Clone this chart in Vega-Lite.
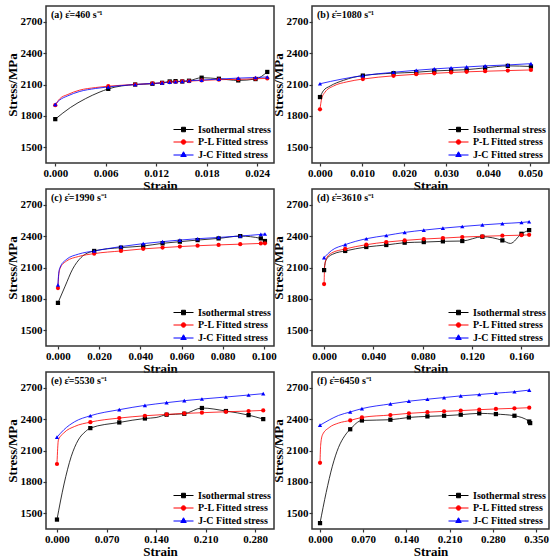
{
  "$schema": "https://vega.github.io/schema/vega-lite/v6.json",
  "padding": {"left": 5, "top": 5, "right": 5, "bottom": 0},
  "data": {
    "values": [
      {"panel": "a", "series": "Isothermal stress", "strain": 0, "stress": 1769, "obs": 1},
      {"panel": "a", "series": "Isothermal stress", "strain": 0.0018, "stress": 1880, "obs": 0},
      {"panel": "a", "series": "Isothermal stress", "strain": 0.0036, "stress": 1965, "obs": 0},
      {"panel": "a", "series": "Isothermal stress", "strain": 0.0052, "stress": 2025, "obs": 0},
      {"panel": "a", "series": "Isothermal stress", "strain": 0.0063, "stress": 2058, "obs": 1},
      {"panel": "a", "series": "Isothermal stress", "strain": 0.0095, "stress": 2100, "obs": 1},
      {"panel": "a", "series": "Isothermal stress", "strain": 0.01155, "stress": 2107, "obs": 1},
      {"panel": "a", "series": "Isothermal stress", "strain": 0.0127, "stress": 2116, "obs": 1},
      {"panel": "a", "series": "Isothermal stress", "strain": 0.0136, "stress": 2129, "obs": 1},
      {"panel": "a", "series": "Isothermal stress", "strain": 0.0143, "stress": 2132, "obs": 1},
      {"panel": "a", "series": "Isothermal stress", "strain": 0.0151, "stress": 2129, "obs": 1},
      {"panel": "a", "series": "Isothermal stress", "strain": 0.0159, "stress": 2136, "obs": 1},
      {"panel": "a", "series": "Isothermal stress", "strain": 0.0174, "stress": 2165, "obs": 1},
      {"panel": "a", "series": "Isothermal stress", "strain": 0.01945, "stress": 2155, "obs": 1},
      {"panel": "a", "series": "Isothermal stress", "strain": 0.02175, "stress": 2139, "obs": 1},
      {"panel": "a", "series": "Isothermal stress", "strain": 0.0238, "stress": 2152, "obs": 1},
      {"panel": "a", "series": "Isothermal stress", "strain": 0.0252, "stress": 2220, "obs": 1},
      {"panel": "a", "series": "P-L Fitted stress", "strain": 0, "stress": 1902, "obs": 1},
      {"panel": "a", "series": "P-L Fitted stress", "strain": 0.0005, "stress": 1961, "obs": 0},
      {"panel": "a", "series": "P-L Fitted stress", "strain": 0.0015, "stress": 2005, "obs": 0},
      {"panel": "a", "series": "P-L Fitted stress", "strain": 0.00285, "stress": 2045, "obs": 0},
      {"panel": "a", "series": "P-L Fitted stress", "strain": 0.0048, "stress": 2071, "obs": 0},
      {"panel": "a", "series": "P-L Fitted stress", "strain": 0.0063, "stress": 2084, "obs": 1},
      {"panel": "a", "series": "P-L Fitted stress", "strain": 0.0095, "stress": 2100, "obs": 1},
      {"panel": "a", "series": "P-L Fitted stress", "strain": 0.01155, "stress": 2110, "obs": 1},
      {"panel": "a", "series": "P-L Fitted stress", "strain": 0.0127, "stress": 2116, "obs": 1},
      {"panel": "a", "series": "P-L Fitted stress", "strain": 0.0136, "stress": 2122, "obs": 1},
      {"panel": "a", "series": "P-L Fitted stress", "strain": 0.0143, "stress": 2126, "obs": 1},
      {"panel": "a", "series": "P-L Fitted stress", "strain": 0.0151, "stress": 2129, "obs": 1},
      {"panel": "a", "series": "P-L Fitted stress", "strain": 0.0159, "stress": 2132, "obs": 1},
      {"panel": "a", "series": "P-L Fitted stress", "strain": 0.0174, "stress": 2139, "obs": 1},
      {"panel": "a", "series": "P-L Fitted stress", "strain": 0.01945, "stress": 2146, "obs": 1},
      {"panel": "a", "series": "P-L Fitted stress", "strain": 0.02175, "stress": 2149, "obs": 1},
      {"panel": "a", "series": "P-L Fitted stress", "strain": 0.0238, "stress": 2155, "obs": 1},
      {"panel": "a", "series": "P-L Fitted stress", "strain": 0.0252, "stress": 2158, "obs": 1},
      {"panel": "a", "series": "J-C Fitted stress", "strain": 0, "stress": 1910, "obs": 1},
      {"panel": "a", "series": "J-C Fitted stress", "strain": 0.0005, "stress": 1950, "obs": 0},
      {"panel": "a", "series": "J-C Fitted stress", "strain": 0.0015, "stress": 1992, "obs": 0},
      {"panel": "a", "series": "J-C Fitted stress", "strain": 0.00285, "stress": 2032, "obs": 0},
      {"panel": "a", "series": "J-C Fitted stress", "strain": 0.0048, "stress": 2062, "obs": 0},
      {"panel": "a", "series": "J-C Fitted stress", "strain": 0.0063, "stress": 2077, "obs": 1},
      {"panel": "a", "series": "J-C Fitted stress", "strain": 0.0095, "stress": 2100, "obs": 1},
      {"panel": "a", "series": "J-C Fitted stress", "strain": 0.01155, "stress": 2110, "obs": 1},
      {"panel": "a", "series": "J-C Fitted stress", "strain": 0.0127, "stress": 2116, "obs": 1},
      {"panel": "a", "series": "J-C Fitted stress", "strain": 0.0136, "stress": 2122, "obs": 1},
      {"panel": "a", "series": "J-C Fitted stress", "strain": 0.0143, "stress": 2126, "obs": 1},
      {"panel": "a", "series": "J-C Fitted stress", "strain": 0.0151, "stress": 2130, "obs": 1},
      {"panel": "a", "series": "J-C Fitted stress", "strain": 0.0159, "stress": 2136, "obs": 1},
      {"panel": "a", "series": "J-C Fitted stress", "strain": 0.0174, "stress": 2142, "obs": 1},
      {"panel": "a", "series": "J-C Fitted stress", "strain": 0.01945, "stress": 2152, "obs": 1},
      {"panel": "a", "series": "J-C Fitted stress", "strain": 0.02175, "stress": 2161, "obs": 1},
      {"panel": "a", "series": "J-C Fitted stress", "strain": 0.0238, "stress": 2167, "obs": 1},
      {"panel": "a", "series": "J-C Fitted stress", "strain": 0.0252, "stress": 2172, "obs": 1},

      {"panel": "b", "series": "Isothermal stress", "strain": 0, "stress": 1980, "obs": 1},
      {"panel": "b", "series": "Isothermal stress", "strain": 0.0008, "stress": 2040, "obs": 0},
      {"panel": "b", "series": "Isothermal stress", "strain": 0.0024, "stress": 2085, "obs": 0},
      {"panel": "b", "series": "Isothermal stress", "strain": 0.0056, "stress": 2140, "obs": 0},
      {"panel": "b", "series": "Isothermal stress", "strain": 0.0079, "stress": 2168, "obs": 0},
      {"panel": "b", "series": "Isothermal stress", "strain": 0.0102, "stress": 2185, "obs": 1},
      {"panel": "b", "series": "Isothermal stress", "strain": 0.0175, "stress": 2208, "obs": 1},
      {"panel": "b", "series": "Isothermal stress", "strain": 0.0229, "stress": 2217, "obs": 1},
      {"panel": "b", "series": "Isothermal stress", "strain": 0.0272, "stress": 2230, "obs": 1},
      {"panel": "b", "series": "Isothermal stress", "strain": 0.0312, "stress": 2236, "obs": 1},
      {"panel": "b", "series": "Isothermal stress", "strain": 0.0349, "stress": 2242, "obs": 1},
      {"panel": "b", "series": "Isothermal stress", "strain": 0.0393, "stress": 2259, "obs": 1},
      {"panel": "b", "series": "Isothermal stress", "strain": 0.0447, "stress": 2278, "obs": 1},
      {"panel": "b", "series": "Isothermal stress", "strain": 0.0502, "stress": 2272, "obs": 1},
      {"panel": "b", "series": "P-L Fitted stress", "strain": 0, "stress": 1863, "obs": 1},
      {"panel": "b", "series": "P-L Fitted stress", "strain": 0.0004, "stress": 1964, "obs": 0},
      {"panel": "b", "series": "P-L Fitted stress", "strain": 0.0012, "stress": 2027, "obs": 0},
      {"panel": "b", "series": "P-L Fitted stress", "strain": 0.0032, "stress": 2085, "obs": 0},
      {"panel": "b", "series": "P-L Fitted stress", "strain": 0.0064, "stress": 2125, "obs": 0},
      {"panel": "b", "series": "P-L Fitted stress", "strain": 0.0102, "stress": 2152, "obs": 1},
      {"panel": "b", "series": "P-L Fitted stress", "strain": 0.0175, "stress": 2183, "obs": 1},
      {"panel": "b", "series": "P-L Fitted stress", "strain": 0.0229, "stress": 2198, "obs": 1},
      {"panel": "b", "series": "P-L Fitted stress", "strain": 0.0272, "stress": 2207, "obs": 1},
      {"panel": "b", "series": "P-L Fitted stress", "strain": 0.0312, "stress": 2215, "obs": 1},
      {"panel": "b", "series": "P-L Fitted stress", "strain": 0.0349, "stress": 2221, "obs": 1},
      {"panel": "b", "series": "P-L Fitted stress", "strain": 0.0393, "stress": 2227, "obs": 1},
      {"panel": "b", "series": "P-L Fitted stress", "strain": 0.0447, "stress": 2233, "obs": 1},
      {"panel": "b", "series": "P-L Fitted stress", "strain": 0.0502, "stress": 2239, "obs": 1},
      {"panel": "b", "series": "J-C Fitted stress", "strain": 0, "stress": 2107, "obs": 1},
      {"panel": "b", "series": "J-C Fitted stress", "strain": 0.005, "stress": 2150, "obs": 0},
      {"panel": "b", "series": "J-C Fitted stress", "strain": 0.0102, "stress": 2185, "obs": 1},
      {"panel": "b", "series": "J-C Fitted stress", "strain": 0.0175, "stress": 2217, "obs": 1},
      {"panel": "b", "series": "J-C Fitted stress", "strain": 0.0229, "stress": 2236, "obs": 1},
      {"panel": "b", "series": "J-C Fitted stress", "strain": 0.0272, "stress": 2249, "obs": 1},
      {"panel": "b", "series": "J-C Fitted stress", "strain": 0.0312, "stress": 2259, "obs": 1},
      {"panel": "b", "series": "J-C Fitted stress", "strain": 0.0349, "stress": 2268, "obs": 1},
      {"panel": "b", "series": "J-C Fitted stress", "strain": 0.0393, "stress": 2278, "obs": 1},
      {"panel": "b", "series": "J-C Fitted stress", "strain": 0.0447, "stress": 2287, "obs": 1},
      {"panel": "b", "series": "J-C Fitted stress", "strain": 0.0502, "stress": 2299, "obs": 1},

      {"panel": "c", "series": "Isothermal stress", "strain": 0, "stress": 1762, "obs": 1},
      {"panel": "c", "series": "Isothermal stress", "strain": 0.0035, "stress": 1922, "obs": 0},
      {"panel": "c", "series": "Isothermal stress", "strain": 0.0071, "stress": 2084, "obs": 0},
      {"panel": "c", "series": "Isothermal stress", "strain": 0.0112, "stress": 2195, "obs": 0},
      {"panel": "c", "series": "Isothermal stress", "strain": 0.0176, "stress": 2258, "obs": 1},
      {"panel": "c", "series": "Isothermal stress", "strain": 0.0306, "stress": 2290, "obs": 1},
      {"panel": "c", "series": "Isothermal stress", "strain": 0.0414, "stress": 2305, "obs": 1},
      {"panel": "c", "series": "Isothermal stress", "strain": 0.0508, "stress": 2331, "obs": 1},
      {"panel": "c", "series": "Isothermal stress", "strain": 0.0592, "stress": 2347, "obs": 1},
      {"panel": "c", "series": "Isothermal stress", "strain": 0.0678, "stress": 2362, "obs": 1},
      {"panel": "c", "series": "Isothermal stress", "strain": 0.078, "stress": 2378, "obs": 1},
      {"panel": "c", "series": "Isothermal stress", "strain": 0.0885, "stress": 2400, "obs": 1},
      {"panel": "c", "series": "Isothermal stress", "strain": 0.0985, "stress": 2378, "obs": 1},
      {"panel": "c", "series": "Isothermal stress", "strain": 0.1005, "stress": 2353, "obs": 1},
      {"panel": "c", "series": "P-L Fitted stress", "strain": 0, "stress": 1904, "obs": 1},
      {"panel": "c", "series": "P-L Fitted stress", "strain": 0.0003, "stress": 2010, "obs": 0},
      {"panel": "c", "series": "P-L Fitted stress", "strain": 0.001, "stress": 2090, "obs": 0},
      {"panel": "c", "series": "P-L Fitted stress", "strain": 0.004, "stress": 2160, "obs": 0},
      {"panel": "c", "series": "P-L Fitted stress", "strain": 0.01, "stress": 2205, "obs": 0},
      {"panel": "c", "series": "P-L Fitted stress", "strain": 0.0176, "stress": 2233, "obs": 1},
      {"panel": "c", "series": "P-L Fitted stress", "strain": 0.0306, "stress": 2258, "obs": 1},
      {"panel": "c", "series": "P-L Fitted stress", "strain": 0.0414, "stress": 2278, "obs": 1},
      {"panel": "c", "series": "P-L Fitted stress", "strain": 0.0508, "stress": 2290, "obs": 1},
      {"panel": "c", "series": "P-L Fitted stress", "strain": 0.0592, "stress": 2300, "obs": 1},
      {"panel": "c", "series": "P-L Fitted stress", "strain": 0.0678, "stress": 2308, "obs": 1},
      {"panel": "c", "series": "P-L Fitted stress", "strain": 0.078, "stress": 2316, "obs": 1},
      {"panel": "c", "series": "P-L Fitted stress", "strain": 0.0885, "stress": 2323, "obs": 1},
      {"panel": "c", "series": "P-L Fitted stress", "strain": 0.0985, "stress": 2330, "obs": 1},
      {"panel": "c", "series": "P-L Fitted stress", "strain": 0.1005, "stress": 2331, "obs": 1},
      {"panel": "c", "series": "J-C Fitted stress", "strain": 0, "stress": 1933, "obs": 1},
      {"panel": "c", "series": "J-C Fitted stress", "strain": 0.0003, "stress": 2030, "obs": 0},
      {"panel": "c", "series": "J-C Fitted stress", "strain": 0.001, "stress": 2100, "obs": 0},
      {"panel": "c", "series": "J-C Fitted stress", "strain": 0.004, "stress": 2175, "obs": 0},
      {"panel": "c", "series": "J-C Fitted stress", "strain": 0.01, "stress": 2228, "obs": 0},
      {"panel": "c", "series": "J-C Fitted stress", "strain": 0.0176, "stress": 2258, "obs": 1},
      {"panel": "c", "series": "J-C Fitted stress", "strain": 0.0306, "stress": 2300, "obs": 1},
      {"panel": "c", "series": "J-C Fitted stress", "strain": 0.0414, "stress": 2328, "obs": 1},
      {"panel": "c", "series": "J-C Fitted stress", "strain": 0.0508, "stress": 2347, "obs": 1},
      {"panel": "c", "series": "J-C Fitted stress", "strain": 0.0592, "stress": 2362, "obs": 1},
      {"panel": "c", "series": "J-C Fitted stress", "strain": 0.0678, "stress": 2375, "obs": 1},
      {"panel": "c", "series": "J-C Fitted stress", "strain": 0.078, "stress": 2387, "obs": 1},
      {"panel": "c", "series": "J-C Fitted stress", "strain": 0.0885, "stress": 2401, "obs": 1},
      {"panel": "c", "series": "J-C Fitted stress", "strain": 0.0985, "stress": 2416, "obs": 1},
      {"panel": "c", "series": "J-C Fitted stress", "strain": 0.1005, "stress": 2420, "obs": 1},

      {"panel": "d", "series": "Isothermal stress", "strain": 0, "stress": 2075, "obs": 1},
      {"panel": "d", "series": "Isothermal stress", "strain": 0.001, "stress": 2150, "obs": 0},
      {"panel": "d", "series": "Isothermal stress", "strain": 0.003, "stress": 2195, "obs": 0},
      {"panel": "d", "series": "Isothermal stress", "strain": 0.008, "stress": 2232, "obs": 0},
      {"panel": "d", "series": "Isothermal stress", "strain": 0.0171, "stress": 2258, "obs": 1},
      {"panel": "d", "series": "Isothermal stress", "strain": 0.0342, "stress": 2296, "obs": 1},
      {"panel": "d", "series": "Isothermal stress", "strain": 0.0504, "stress": 2315, "obs": 1},
      {"panel": "d", "series": "Isothermal stress", "strain": 0.0653, "stress": 2337, "obs": 1},
      {"panel": "d", "series": "Isothermal stress", "strain": 0.0808, "stress": 2343, "obs": 1},
      {"panel": "d", "series": "Isothermal stress", "strain": 0.0963, "stress": 2350, "obs": 1},
      {"panel": "d", "series": "Isothermal stress", "strain": 0.112, "stress": 2353, "obs": 1},
      {"panel": "d", "series": "Isothermal stress", "strain": 0.1283, "stress": 2394, "obs": 1},
      {"panel": "d", "series": "Isothermal stress", "strain": 0.1445, "stress": 2359, "obs": 1},
      {"panel": "d", "series": "Isothermal stress", "strain": 0.151, "stress": 2330, "obs": 0},
      {"panel": "d", "series": "Isothermal stress", "strain": 0.16, "stress": 2422, "obs": 1},
      {"panel": "d", "series": "Isothermal stress", "strain": 0.1662, "stress": 2457, "obs": 1},
      {"panel": "d", "series": "P-L Fitted stress", "strain": 0, "stress": 1942, "obs": 1},
      {"panel": "d", "series": "P-L Fitted stress", "strain": 0.0005, "stress": 2120, "obs": 0},
      {"panel": "d", "series": "P-L Fitted stress", "strain": 0.002, "stress": 2190, "obs": 0},
      {"panel": "d", "series": "P-L Fitted stress", "strain": 0.006, "stress": 2238, "obs": 0},
      {"panel": "d", "series": "P-L Fitted stress", "strain": 0.0171, "stress": 2277, "obs": 1},
      {"panel": "d", "series": "P-L Fitted stress", "strain": 0.0342, "stress": 2318, "obs": 1},
      {"panel": "d", "series": "P-L Fitted stress", "strain": 0.0504, "stress": 2343, "obs": 1},
      {"panel": "d", "series": "P-L Fitted stress", "strain": 0.0653, "stress": 2359, "obs": 1},
      {"panel": "d", "series": "P-L Fitted stress", "strain": 0.0808, "stress": 2372, "obs": 1},
      {"panel": "d", "series": "P-L Fitted stress", "strain": 0.0963, "stress": 2381, "obs": 1},
      {"panel": "d", "series": "P-L Fitted stress", "strain": 0.112, "stress": 2391, "obs": 1},
      {"panel": "d", "series": "P-L Fitted stress", "strain": 0.1283, "stress": 2398, "obs": 1},
      {"panel": "d", "series": "P-L Fitted stress", "strain": 0.1445, "stress": 2404, "obs": 1},
      {"panel": "d", "series": "P-L Fitted stress", "strain": 0.16, "stress": 2409, "obs": 1},
      {"panel": "d", "series": "P-L Fitted stress", "strain": 0.1662, "stress": 2412, "obs": 1},
      {"panel": "d", "series": "J-C Fitted stress", "strain": 0, "stress": 2195, "obs": 1},
      {"panel": "d", "series": "J-C Fitted stress", "strain": 0.006, "stress": 2262, "obs": 0},
      {"panel": "d", "series": "J-C Fitted stress", "strain": 0.0171, "stress": 2318, "obs": 1},
      {"panel": "d", "series": "J-C Fitted stress", "strain": 0.0342, "stress": 2375, "obs": 1},
      {"panel": "d", "series": "J-C Fitted stress", "strain": 0.0504, "stress": 2406, "obs": 1},
      {"panel": "d", "series": "J-C Fitted stress", "strain": 0.0653, "stress": 2435, "obs": 1},
      {"panel": "d", "series": "J-C Fitted stress", "strain": 0.0808, "stress": 2457, "obs": 1},
      {"panel": "d", "series": "J-C Fitted stress", "strain": 0.0963, "stress": 2476, "obs": 1},
      {"panel": "d", "series": "J-C Fitted stress", "strain": 0.112, "stress": 2492, "obs": 1},
      {"panel": "d", "series": "J-C Fitted stress", "strain": 0.1283, "stress": 2507, "obs": 1},
      {"panel": "d", "series": "J-C Fitted stress", "strain": 0.1445, "stress": 2520, "obs": 1},
      {"panel": "d", "series": "J-C Fitted stress", "strain": 0.16, "stress": 2530, "obs": 1},
      {"panel": "d", "series": "J-C Fitted stress", "strain": 0.1662, "stress": 2537, "obs": 1},

      {"panel": "e", "series": "Isothermal stress", "strain": 0, "stress": 1440, "obs": 1},
      {"panel": "e", "series": "Isothermal stress", "strain": 0.01, "stress": 1780, "obs": 0},
      {"panel": "e", "series": "Isothermal stress", "strain": 0.02, "stress": 2040, "obs": 0},
      {"panel": "e", "series": "Isothermal stress", "strain": 0.03, "stress": 2200, "obs": 0},
      {"panel": "e", "series": "Isothermal stress", "strain": 0.04, "stress": 2280, "obs": 0},
      {"panel": "e", "series": "Isothermal stress", "strain": 0.0471, "stress": 2314, "obs": 1},
      {"panel": "e", "series": "Isothermal stress", "strain": 0.088, "stress": 2368, "obs": 1},
      {"panel": "e", "series": "Isothermal stress", "strain": 0.1242, "stress": 2406, "obs": 1},
      {"panel": "e", "series": "Isothermal stress", "strain": 0.14, "stress": 2415, "obs": 0},
      {"panel": "e", "series": "Isothermal stress", "strain": 0.1548, "stress": 2442, "obs": 1},
      {"panel": "e", "series": "Isothermal stress", "strain": 0.1798, "stress": 2451, "obs": 1},
      {"panel": "e", "series": "Isothermal stress", "strain": 0.2047, "stress": 2506, "obs": 1},
      {"panel": "e", "series": "Isothermal stress", "strain": 0.2386, "stress": 2477, "obs": 1},
      {"panel": "e", "series": "Isothermal stress", "strain": 0.2706, "stress": 2438, "obs": 1},
      {"panel": "e", "series": "Isothermal stress", "strain": 0.2913, "stress": 2400, "obs": 1},
      {"panel": "e", "series": "P-L Fitted stress", "strain": 0, "stress": 1971, "obs": 1},
      {"panel": "e", "series": "P-L Fitted stress", "strain": 0.002, "stress": 2200, "obs": 0},
      {"panel": "e", "series": "P-L Fitted stress", "strain": 0.01, "stress": 2270, "obs": 0},
      {"panel": "e", "series": "P-L Fitted stress", "strain": 0.025, "stress": 2330, "obs": 0},
      {"panel": "e", "series": "P-L Fitted stress", "strain": 0.0471, "stress": 2371, "obs": 1},
      {"panel": "e", "series": "P-L Fitted stress", "strain": 0.088, "stress": 2410, "obs": 1},
      {"panel": "e", "series": "P-L Fitted stress", "strain": 0.1242, "stress": 2432, "obs": 1},
      {"panel": "e", "series": "P-L Fitted stress", "strain": 0.1548, "stress": 2445, "obs": 1},
      {"panel": "e", "series": "P-L Fitted stress", "strain": 0.1798, "stress": 2454, "obs": 1},
      {"panel": "e", "series": "P-L Fitted stress", "strain": 0.2047, "stress": 2461, "obs": 1},
      {"panel": "e", "series": "P-L Fitted stress", "strain": 0.2386, "stress": 2470, "obs": 1},
      {"panel": "e", "series": "P-L Fitted stress", "strain": 0.2706, "stress": 2477, "obs": 1},
      {"panel": "e", "series": "P-L Fitted stress", "strain": 0.2913, "stress": 2483, "obs": 1},
      {"panel": "e", "series": "J-C Fitted stress", "strain": 0, "stress": 2227, "obs": 1},
      {"panel": "e", "series": "J-C Fitted stress", "strain": 0.01, "stress": 2300, "obs": 0},
      {"panel": "e", "series": "J-C Fitted stress", "strain": 0.025, "stress": 2375, "obs": 0},
      {"panel": "e", "series": "J-C Fitted stress", "strain": 0.0471, "stress": 2432, "obs": 1},
      {"panel": "e", "series": "J-C Fitted stress", "strain": 0.088, "stress": 2490, "obs": 1},
      {"panel": "e", "series": "J-C Fitted stress", "strain": 0.1242, "stress": 2531, "obs": 1},
      {"panel": "e", "series": "J-C Fitted stress", "strain": 0.1548, "stress": 2557, "obs": 1},
      {"panel": "e", "series": "J-C Fitted stress", "strain": 0.1798, "stress": 2576, "obs": 1},
      {"panel": "e", "series": "J-C Fitted stress", "strain": 0.2047, "stress": 2592, "obs": 1},
      {"panel": "e", "series": "J-C Fitted stress", "strain": 0.2386, "stress": 2611, "obs": 1},
      {"panel": "e", "series": "J-C Fitted stress", "strain": 0.2706, "stress": 2630, "obs": 1},
      {"panel": "e", "series": "J-C Fitted stress", "strain": 0.2913, "stress": 2643, "obs": 1},

      {"panel": "f", "series": "Isothermal stress", "strain": 0, "stress": 1406, "obs": 1},
      {"panel": "f", "series": "Isothermal stress", "strain": 0.01, "stress": 1700, "obs": 0},
      {"panel": "f", "series": "Isothermal stress", "strain": 0.02, "stress": 1950, "obs": 0},
      {"panel": "f", "series": "Isothermal stress", "strain": 0.03, "stress": 2130, "obs": 0},
      {"panel": "f", "series": "Isothermal stress", "strain": 0.04, "stress": 2240, "obs": 0},
      {"panel": "f", "series": "Isothermal stress", "strain": 0.0489, "stress": 2303, "obs": 1},
      {"panel": "f", "series": "Isothermal stress", "strain": 0.0679, "stress": 2387, "obs": 1},
      {"panel": "f", "series": "Isothermal stress", "strain": 0.114, "stress": 2394, "obs": 1},
      {"panel": "f", "series": "Isothermal stress", "strain": 0.144, "stress": 2416, "obs": 1},
      {"panel": "f", "series": "Isothermal stress", "strain": 0.174, "stress": 2426, "obs": 1},
      {"panel": "f", "series": "Isothermal stress", "strain": 0.201, "stress": 2432, "obs": 1},
      {"panel": "f", "series": "Isothermal stress", "strain": 0.228, "stress": 2442, "obs": 1},
      {"panel": "f", "series": "Isothermal stress", "strain": 0.258, "stress": 2455, "obs": 1},
      {"panel": "f", "series": "Isothermal stress", "strain": 0.285, "stress": 2448, "obs": 1},
      {"panel": "f", "series": "Isothermal stress", "strain": 0.315, "stress": 2432, "obs": 1},
      {"panel": "f", "series": "Isothermal stress", "strain": 0.339, "stress": 2377, "obs": 1},
      {"panel": "f", "series": "Isothermal stress", "strain": 0.3405, "stress": 2362, "obs": 1},
      {"panel": "f", "series": "P-L Fitted stress", "strain": 0, "stress": 1982, "obs": 1},
      {"panel": "f", "series": "P-L Fitted stress", "strain": 0.001, "stress": 2150, "obs": 0},
      {"panel": "f", "series": "P-L Fitted stress", "strain": 0.004, "stress": 2250, "obs": 0},
      {"panel": "f", "series": "P-L Fitted stress", "strain": 0.015, "stress": 2320, "obs": 0},
      {"panel": "f", "series": "P-L Fitted stress", "strain": 0.03, "stress": 2362, "obs": 0},
      {"panel": "f", "series": "P-L Fitted stress", "strain": 0.0489, "stress": 2387, "obs": 1},
      {"panel": "f", "series": "P-L Fitted stress", "strain": 0.0679, "stress": 2416, "obs": 1},
      {"panel": "f", "series": "P-L Fitted stress", "strain": 0.114, "stress": 2439, "obs": 1},
      {"panel": "f", "series": "P-L Fitted stress", "strain": 0.144, "stress": 2455, "obs": 1},
      {"panel": "f", "series": "P-L Fitted stress", "strain": 0.174, "stress": 2466, "obs": 1},
      {"panel": "f", "series": "P-L Fitted stress", "strain": 0.201, "stress": 2474, "obs": 1},
      {"panel": "f", "series": "P-L Fitted stress", "strain": 0.228, "stress": 2481, "obs": 1},
      {"panel": "f", "series": "P-L Fitted stress", "strain": 0.258, "stress": 2490, "obs": 1},
      {"panel": "f", "series": "P-L Fitted stress", "strain": 0.285, "stress": 2497, "obs": 1},
      {"panel": "f", "series": "P-L Fitted stress", "strain": 0.315, "stress": 2503, "obs": 1},
      {"panel": "f", "series": "P-L Fitted stress", "strain": 0.339, "stress": 2509, "obs": 1},
      {"panel": "f", "series": "J-C Fitted stress", "strain": 0, "stress": 2342, "obs": 1},
      {"panel": "f", "series": "J-C Fitted stress", "strain": 0.015, "stress": 2392, "obs": 0},
      {"panel": "f", "series": "J-C Fitted stress", "strain": 0.03, "stress": 2435, "obs": 0},
      {"panel": "f", "series": "J-C Fitted stress", "strain": 0.0489, "stress": 2468, "obs": 1},
      {"panel": "f", "series": "J-C Fitted stress", "strain": 0.0679, "stress": 2500, "obs": 1},
      {"panel": "f", "series": "J-C Fitted stress", "strain": 0.114, "stress": 2545, "obs": 1},
      {"panel": "f", "series": "J-C Fitted stress", "strain": 0.144, "stress": 2571, "obs": 1},
      {"panel": "f", "series": "J-C Fitted stress", "strain": 0.174, "stress": 2590, "obs": 1},
      {"panel": "f", "series": "J-C Fitted stress", "strain": 0.201, "stress": 2606, "obs": 1},
      {"panel": "f", "series": "J-C Fitted stress", "strain": 0.228, "stress": 2622, "obs": 1},
      {"panel": "f", "series": "J-C Fitted stress", "strain": 0.258, "stress": 2635, "obs": 1},
      {"panel": "f", "series": "J-C Fitted stress", "strain": 0.285, "stress": 2648, "obs": 1},
      {"panel": "f", "series": "J-C Fitted stress", "strain": 0.315, "stress": 2661, "obs": 1},
      {"panel": "f", "series": "J-C Fitted stress", "strain": 0.339, "stress": 2677, "obs": 1}
    ]
  },
  "columns": 2,
  "bounds": "flush",
  "align": "each",
  "spacing": {"row": 26, "column": 38},
  "concat": [
    {
      "width": 228, "height": 157,
      "title": "(a) \u03b5\u0307=460 s\u207b\u00b9",
      "transform": [{"filter": "datum.panel == 'a'"}],
      "encoding": {
        "x": {"field": "strain", "type": "quantitative", "scale": {"domain": [-0.0011, 0.026], "nice": false, "zero": false}, "axis": {"values": [0, 0.006, 0.012, 0.018, 0.024], "format": ".3f", "title": "Strain"}},
        "y": {"field": "stress", "type": "quantitative", "scale": {"domain": [1350, 2850], "nice": false, "zero": false}, "axis": {"values": [1500, 1800, 2100, 2400, 2700], "format": "d", "title": "Stress/MPa"}}
      },
      "layer": [
        {"mark": {"type": "line", "interpolate": "monotone", "strokeWidth": 1, "opacity": 0.8}, "encoding": {"color": {"field": "series", "type": "nominal", "scale": {"domain": ["Isothermal stress", "P-L Fitted stress", "J-C Fitted stress"], "range": ["#000000", "#ff0000", "#0000ff"]}, "legend": null}}},
        {"transform": [{"filter": "datum.obs == 1"}], "mark": {"type": "point", "filled": true, "size": 18, "opacity": 1}, "encoding": {"color": {"field": "series", "type": "nominal", "legend": null}, "shape": {"field": "series", "type": "nominal", "scale": {"domain": ["Isothermal stress", "P-L Fitted stress", "J-C Fitted stress"], "range": ["square", "circle", "triangle-up"]}, "legend": null}}},
        {"transform": [{"filter": "false"}], "mark": {"type": "point", "filled": true, "size": 100, "opacity": 1}, "encoding": {
          "fill": {"field": "series", "type": "nominal", "scale": {"domain": ["Isothermal stress", "P-L Fitted stress", "J-C Fitted stress"], "range": ["#000000", "#ff0000", "#0000ff"]}, "legend": {"title": null}},
          "stroke": {"field": "series", "type": "nominal", "scale": {"domain": ["Isothermal stress", "P-L Fitted stress", "J-C Fitted stress"], "range": ["#000000", "#ff0000", "#0000ff"]}, "legend": {"title": null}},
          "shape": {"field": "series", "type": "nominal", "scale": {"domain": ["Isothermal stress", "P-L Fitted stress", "J-C Fitted stress"], "range": ["M-1,0H3M0.6,-0.45H1.4V0.45H0.6Z", "M-1,0H3M1.45,0A0.45,0.45,0,1,1,0.55,0A0.45,0.45,0,1,1,1.45,0Z", "M-1,0.1H3M1,-0.55L1.55,0.4H0.45Z"]}, "legend": {"title": null}}
        }}
      ],
      "resolve": {"scale": {"fill": "independent", "stroke": "independent", "shape": "independent"}}
    },
    {
      "width": 237, "height": 157,
      "title": "(b) \u03b5\u0307=1080 s\u207b\u00b9",
      "transform": [{"filter": "datum.panel == 'b'"}],
      "encoding": {
        "x": {"field": "strain", "type": "quantitative", "scale": {"domain": [-0.0019, 0.0545], "nice": false, "zero": false}, "axis": {"values": [0, 0.01, 0.02, 0.03, 0.04, 0.05], "format": ".3f", "title": "Strain"}},
        "y": {"field": "stress", "type": "quantitative", "scale": {"domain": [1350, 2850], "nice": false, "zero": false}, "axis": {"values": [1500, 1800, 2100, 2400, 2700], "format": "d", "title": "Stress/MPa"}}
      },
      "layer": [
        {"mark": {"type": "line", "interpolate": "monotone", "strokeWidth": 1, "opacity": 0.8}, "encoding": {"color": {"field": "series", "type": "nominal", "scale": {"domain": ["Isothermal stress", "P-L Fitted stress", "J-C Fitted stress"], "range": ["#000000", "#ff0000", "#0000ff"]}, "legend": null}}},
        {"transform": [{"filter": "datum.obs == 1"}], "mark": {"type": "point", "filled": true, "size": 18, "opacity": 1}, "encoding": {"color": {"field": "series", "type": "nominal", "legend": null}, "shape": {"field": "series", "type": "nominal", "scale": {"domain": ["Isothermal stress", "P-L Fitted stress", "J-C Fitted stress"], "range": ["square", "circle", "triangle-up"]}, "legend": null}}},
        {"transform": [{"filter": "false"}], "mark": {"type": "point", "filled": true, "size": 100, "opacity": 1}, "encoding": {
          "fill": {"field": "series", "type": "nominal", "scale": {"domain": ["Isothermal stress", "P-L Fitted stress", "J-C Fitted stress"], "range": ["#000000", "#ff0000", "#0000ff"]}, "legend": {"title": null}},
          "stroke": {"field": "series", "type": "nominal", "scale": {"domain": ["Isothermal stress", "P-L Fitted stress", "J-C Fitted stress"], "range": ["#000000", "#ff0000", "#0000ff"]}, "legend": {"title": null}},
          "shape": {"field": "series", "type": "nominal", "scale": {"domain": ["Isothermal stress", "P-L Fitted stress", "J-C Fitted stress"], "range": ["M-1,0H3M0.6,-0.45H1.4V0.45H0.6Z", "M-1,0H3M1.45,0A0.45,0.45,0,1,1,0.55,0A0.45,0.45,0,1,1,1.45,0Z", "M-1,0.1H3M1,-0.55L1.55,0.4H0.45Z"]}, "legend": {"title": null}}
        }}
      ],
      "resolve": {"scale": {"fill": "independent", "stroke": "independent", "shape": "independent"}}
    },
    {
      "width": 228, "height": 157,
      "title": "(c) \u03b5\u0307=1990 s\u207b\u00b9",
      "transform": [{"filter": "datum.panel == 'c'"}],
      "encoding": {
        "x": {"field": "strain", "type": "quantitative", "scale": {"domain": [-0.0058, 0.1049], "nice": false, "zero": false}, "axis": {"values": [0, 0.02, 0.04, 0.06, 0.08, 0.1], "format": ".3f", "title": "Strain"}},
        "y": {"field": "stress", "type": "quantitative", "scale": {"domain": [1350, 2850], "nice": false, "zero": false}, "axis": {"values": [1500, 1800, 2100, 2400, 2700], "format": "d", "title": "Stress/MPa"}}
      },
      "layer": [
        {"mark": {"type": "line", "interpolate": "monotone", "strokeWidth": 1, "opacity": 0.8}, "encoding": {"color": {"field": "series", "type": "nominal", "scale": {"domain": ["Isothermal stress", "P-L Fitted stress", "J-C Fitted stress"], "range": ["#000000", "#ff0000", "#0000ff"]}, "legend": null}}},
        {"transform": [{"filter": "datum.obs == 1"}], "mark": {"type": "point", "filled": true, "size": 18, "opacity": 1}, "encoding": {"color": {"field": "series", "type": "nominal", "legend": null}, "shape": {"field": "series", "type": "nominal", "scale": {"domain": ["Isothermal stress", "P-L Fitted stress", "J-C Fitted stress"], "range": ["square", "circle", "triangle-up"]}, "legend": null}}},
        {"transform": [{"filter": "false"}], "mark": {"type": "point", "filled": true, "size": 100, "opacity": 1}, "encoding": {
          "fill": {"field": "series", "type": "nominal", "scale": {"domain": ["Isothermal stress", "P-L Fitted stress", "J-C Fitted stress"], "range": ["#000000", "#ff0000", "#0000ff"]}, "legend": {"title": null}},
          "stroke": {"field": "series", "type": "nominal", "scale": {"domain": ["Isothermal stress", "P-L Fitted stress", "J-C Fitted stress"], "range": ["#000000", "#ff0000", "#0000ff"]}, "legend": {"title": null}},
          "shape": {"field": "series", "type": "nominal", "scale": {"domain": ["Isothermal stress", "P-L Fitted stress", "J-C Fitted stress"], "range": ["M-1,0H3M0.6,-0.45H1.4V0.45H0.6Z", "M-1,0H3M1.45,0A0.45,0.45,0,1,1,0.55,0A0.45,0.45,0,1,1,1.45,0Z", "M-1,0.1H3M1,-0.55L1.55,0.4H0.45Z"]}, "legend": {"title": null}}
        }}
      ],
      "resolve": {"scale": {"fill": "independent", "stroke": "independent", "shape": "independent"}}
    },
    {
      "width": 237, "height": 157,
      "title": "(d) \u03b5\u0307=3610 s\u207b\u00b9",
      "transform": [{"filter": "datum.panel == 'd'"}],
      "encoding": {
        "x": {"field": "strain", "type": "quantitative", "scale": {"domain": [-0.0098, 0.1823], "nice": false, "zero": false}, "axis": {"values": [0, 0.04, 0.08, 0.12, 0.16], "format": ".3f", "title": "Strain"}},
        "y": {"field": "stress", "type": "quantitative", "scale": {"domain": [1350, 2850], "nice": false, "zero": false}, "axis": {"values": [1500, 1800, 2100, 2400, 2700], "format": "d", "title": "Stress/MPa"}}
      },
      "layer": [
        {"mark": {"type": "line", "interpolate": "monotone", "strokeWidth": 1, "opacity": 0.8}, "encoding": {"color": {"field": "series", "type": "nominal", "scale": {"domain": ["Isothermal stress", "P-L Fitted stress", "J-C Fitted stress"], "range": ["#000000", "#ff0000", "#0000ff"]}, "legend": null}}},
        {"transform": [{"filter": "datum.obs == 1"}], "mark": {"type": "point", "filled": true, "size": 18, "opacity": 1}, "encoding": {"color": {"field": "series", "type": "nominal", "legend": null}, "shape": {"field": "series", "type": "nominal", "scale": {"domain": ["Isothermal stress", "P-L Fitted stress", "J-C Fitted stress"], "range": ["square", "circle", "triangle-up"]}, "legend": null}}},
        {"transform": [{"filter": "false"}], "mark": {"type": "point", "filled": true, "size": 100, "opacity": 1}, "encoding": {
          "fill": {"field": "series", "type": "nominal", "scale": {"domain": ["Isothermal stress", "P-L Fitted stress", "J-C Fitted stress"], "range": ["#000000", "#ff0000", "#0000ff"]}, "legend": {"title": null}},
          "stroke": {"field": "series", "type": "nominal", "scale": {"domain": ["Isothermal stress", "P-L Fitted stress", "J-C Fitted stress"], "range": ["#000000", "#ff0000", "#0000ff"]}, "legend": {"title": null}},
          "shape": {"field": "series", "type": "nominal", "scale": {"domain": ["Isothermal stress", "P-L Fitted stress", "J-C Fitted stress"], "range": ["M-1,0H3M0.6,-0.45H1.4V0.45H0.6Z", "M-1,0H3M1.45,0A0.45,0.45,0,1,1,0.55,0A0.45,0.45,0,1,1,1.45,0Z", "M-1,0.1H3M1,-0.55L1.55,0.4H0.45Z"]}, "legend": {"title": null}}
        }}
      ],
      "resolve": {"scale": {"fill": "independent", "stroke": "independent", "shape": "independent"}}
    },
    {
      "width": 228, "height": 157,
      "title": "(e) \u03b5\u0307=5530 s\u207b\u00b9",
      "transform": [{"filter": "datum.panel == 'e'"}],
      "encoding": {
        "x": {"field": "strain", "type": "quantitative", "scale": {"domain": [-0.0155, 0.3065], "nice": false, "zero": false}, "axis": {"values": [0, 0.07, 0.14, 0.21, 0.28], "format": ".3f", "title": "Strain"}},
        "y": {"field": "stress", "type": "quantitative", "scale": {"domain": [1350, 2850], "nice": false, "zero": false}, "axis": {"values": [1500, 1800, 2100, 2400, 2700], "format": "d", "title": "Stress/MPa"}}
      },
      "layer": [
        {"mark": {"type": "line", "interpolate": "monotone", "strokeWidth": 1, "opacity": 0.8}, "encoding": {"color": {"field": "series", "type": "nominal", "scale": {"domain": ["Isothermal stress", "P-L Fitted stress", "J-C Fitted stress"], "range": ["#000000", "#ff0000", "#0000ff"]}, "legend": null}}},
        {"transform": [{"filter": "datum.obs == 1"}], "mark": {"type": "point", "filled": true, "size": 18, "opacity": 1}, "encoding": {"color": {"field": "series", "type": "nominal", "legend": null}, "shape": {"field": "series", "type": "nominal", "scale": {"domain": ["Isothermal stress", "P-L Fitted stress", "J-C Fitted stress"], "range": ["square", "circle", "triangle-up"]}, "legend": null}}},
        {"transform": [{"filter": "false"}], "mark": {"type": "point", "filled": true, "size": 100, "opacity": 1}, "encoding": {
          "fill": {"field": "series", "type": "nominal", "scale": {"domain": ["Isothermal stress", "P-L Fitted stress", "J-C Fitted stress"], "range": ["#000000", "#ff0000", "#0000ff"]}, "legend": {"title": null}},
          "stroke": {"field": "series", "type": "nominal", "scale": {"domain": ["Isothermal stress", "P-L Fitted stress", "J-C Fitted stress"], "range": ["#000000", "#ff0000", "#0000ff"]}, "legend": {"title": null}},
          "shape": {"field": "series", "type": "nominal", "scale": {"domain": ["Isothermal stress", "P-L Fitted stress", "J-C Fitted stress"], "range": ["M-1,0H3M0.6,-0.45H1.4V0.45H0.6Z", "M-1,0H3M1.45,0A0.45,0.45,0,1,1,0.55,0A0.45,0.45,0,1,1,1.45,0Z", "M-1,0.1H3M1,-0.55L1.55,0.4H0.45Z"]}, "legend": {"title": null}}
        }}
      ],
      "resolve": {"scale": {"fill": "independent", "stroke": "independent", "shape": "independent"}}
    },
    {
      "width": 237, "height": 157,
      "title": "(f) \u03b5\u0307=6450 s\u207b\u00b9",
      "transform": [{"filter": "datum.panel == 'f'"}],
      "encoding": {
        "x": {"field": "strain", "type": "quantitative", "scale": {"domain": [-0.013, 0.371], "nice": false, "zero": false}, "axis": {"values": [0, 0.07, 0.14, 0.21, 0.28, 0.35], "format": ".3f", "title": "Strain"}},
        "y": {"field": "stress", "type": "quantitative", "scale": {"domain": [1350, 2850], "nice": false, "zero": false}, "axis": {"values": [1500, 1800, 2100, 2400, 2700], "format": "d", "title": "Stress/MPa"}}
      },
      "layer": [
        {"mark": {"type": "line", "interpolate": "monotone", "strokeWidth": 1, "opacity": 0.8}, "encoding": {"color": {"field": "series", "type": "nominal", "scale": {"domain": ["Isothermal stress", "P-L Fitted stress", "J-C Fitted stress"], "range": ["#000000", "#ff0000", "#0000ff"]}, "legend": null}}},
        {"transform": [{"filter": "datum.obs == 1"}], "mark": {"type": "point", "filled": true, "size": 18, "opacity": 1}, "encoding": {"color": {"field": "series", "type": "nominal", "legend": null}, "shape": {"field": "series", "type": "nominal", "scale": {"domain": ["Isothermal stress", "P-L Fitted stress", "J-C Fitted stress"], "range": ["square", "circle", "triangle-up"]}, "legend": null}}},
        {"transform": [{"filter": "false"}], "mark": {"type": "point", "filled": true, "size": 100, "opacity": 1}, "encoding": {
          "fill": {"field": "series", "type": "nominal", "scale": {"domain": ["Isothermal stress", "P-L Fitted stress", "J-C Fitted stress"], "range": ["#000000", "#ff0000", "#0000ff"]}, "legend": {"title": null}},
          "stroke": {"field": "series", "type": "nominal", "scale": {"domain": ["Isothermal stress", "P-L Fitted stress", "J-C Fitted stress"], "range": ["#000000", "#ff0000", "#0000ff"]}, "legend": {"title": null}},
          "shape": {"field": "series", "type": "nominal", "scale": {"domain": ["Isothermal stress", "P-L Fitted stress", "J-C Fitted stress"], "range": ["M-1,0H3M0.6,-0.45H1.4V0.45H0.6Z", "M-1,0H3M1.45,0A0.45,0.45,0,1,1,0.55,0A0.45,0.45,0,1,1,1.45,0Z", "M-1,0.1H3M1,-0.55L1.55,0.4H0.45Z"]}, "legend": {"title": null}}
        }}
      ],
      "resolve": {"scale": {"fill": "independent", "stroke": "independent", "shape": "independent"}}
    }
  ],
  "resolve": {"scale": {"x": "independent", "y": "independent"}},
  "config": {
    "font": "Liberation Serif",
    "view": {"stroke": "#333333", "strokeWidth": 1.5},
    "axis": {
      "labelFont": "Liberation Serif", "labelFontWeight": "bold", "labelFontSize": 11, "labelColor": "#000000",
      "titleFont": "Liberation Serif", "titleFontWeight": "bold", "titleFontSize": 13, "titleColor": "#000000",
      "tickColor": "#333333", "tickSize": 3, "tickWidth": 1.2, "domain": false, "grid": false,
      "labelPadding": 1, "titlePadding": 1, "labelFlush": false
    },
    "title": {"font": "Liberation Serif", "fontSize": 10, "fontWeight": "bold", "color": "#000000", "anchor": "start", "frame": "group", "offset": -14, "dx": 5},
    "legend": {
      "orient": "bottom-right", "offset": 3, "padding": 0,
      "labelFont": "Liberation Serif", "labelFontWeight": "bold", "labelFontSize": 10, "labelColor": "#000000",
      "symbolSize": 100, "symbolStrokeWidth": 1, "symbolOffset": 0, "labelOffset": 14, "rowPadding": 1.5
    }
  }
}
